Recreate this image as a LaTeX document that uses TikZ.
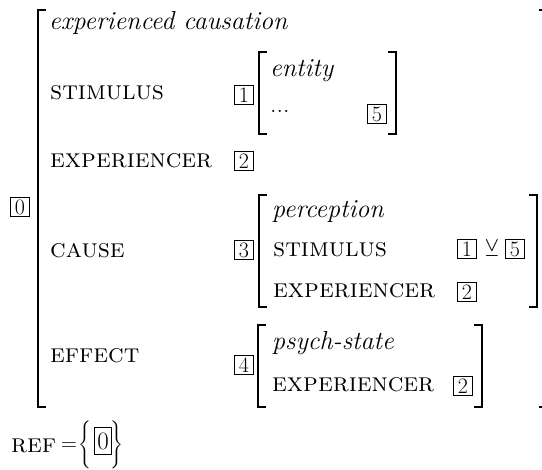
\RequirePackage{fix-cm}
\documentclass[tikz,border=0pt]{standalone}
\usepackage{amsmath,amssymb}
\usepackage{fontspec}
\usetikzlibrary{positioning}
\tikzset{
  avmtxt/.style={anchor=base west, inner sep=0pt, font=\fontsize{26}{30}\selectfont},
  attr/.style={avmtxt, font=\fontsize{26.5}{30}\selectfont\scshape},
  sort/.style={avmtxt, font=\fontsize{26}{30}\selectfont\itshape},
  tagbox/.style={draw, line width=0.7pt, inner sep=0pt, minimum size=19pt,
                 font=\fontsize{22}{22}\selectfont},
  brk/.style={line width=2.2pt},
}
% left and right brackets: x, top, bottom
\newcommand{\lbrk}[3]{\draw[brk] (#1+8,#2) -- (#1,#2) -- (#1,#3) -- (#1+8,#3);}
\newcommand{\rbrk}[3]{\draw[brk] (#1-8,#2) -- (#1,#2) -- (#1,#3) -- (#1-8,#3);}

\begin{document}
\begin{tikzpicture}[x=1pt,y=-1pt]
  \useasboundingbox (0,0) rectangle (542,470);
  \clip (0,0) rectangle (542,470);

  % outer structure
  \node[tagbox] (t0) at (20,207) {0};
  \node[sort] (ec) at (49,30) {experienced causation};
  \node[attr] (stim) at (50,100) {stimulus};
  \node[attr] (exp) at (50,168) {experiencer};
  \node[attr] (cause) at (50,258) {cause};
  \node[attr] (eff) at (50,363) {effect};
  \node[tagbox] (t1) at (244,95) {1};
  \node[tagbox] (t2) at (244,161) {2};
  \node[tagbox] (t3) at (244,250) {3};
  \node[tagbox] (t4) at (244,365) {4};
  \lbrk{38}{10}{407}
  \rbrk{547}{10}{407}

  % stimulus value
  \node[sort] (ent) at (270,77) {entity};
  \node[avmtxt] (dots) at (270,113) {...};
  \node[tagbox] (t5) at (377,114) {5};
  \lbrk{259}{52}{134}
  \rbrk{396}{52}{134}

  % cause value
  \node[sort] (perc) at (272,218) {perception};
  \node[attr] (pstim) at (273,257) {stimulus};
  \node[attr] (pexp) at (273,298) {experiencer};
  \node[tagbox] (p1) at (467,249) {1};
  \node[font=\fontsize{24}{24}\selectfont, inner sep=0pt] (xor) at (492,251) {$\veebar$};
  \node[tagbox] (p5) at (515,249) {5};
  \node[tagbox] (p2) at (467,292) {2};
  \lbrk{259}{195}{307}
  \rbrk{537}{195}{307}

  % effect value
  \node[sort] (psy) at (272,350) {psych-state};
  \node[attr] (sexp) at (272,392) {experiencer};
  \node[tagbox] (s2) at (463,386) {2};
  \lbrk{258}{325}{407}
  \rbrk{482}{325}{407}

  % reference set
  \node[attr] (ref) at (11,453) {ref};
  \node[avmtxt, font=\fontsize{22}{26}\selectfont] (eq) at (61,451) {=};
  \node[inner sep=0pt, font=\fontsize{16}{19}\selectfont] (op) at (85,445) {$\Biggl\{$};
  \node[tagbox, minimum width=17pt, minimum height=27pt, font=\fontsize{25}{25}\selectfont] (rt) at (103,441) {0};
  \node[inner sep=0pt, font=\fontsize{16}{19}\selectfont] (cl) at (117,445) {$\Biggr\}$};
\end{tikzpicture}
\end{document}
